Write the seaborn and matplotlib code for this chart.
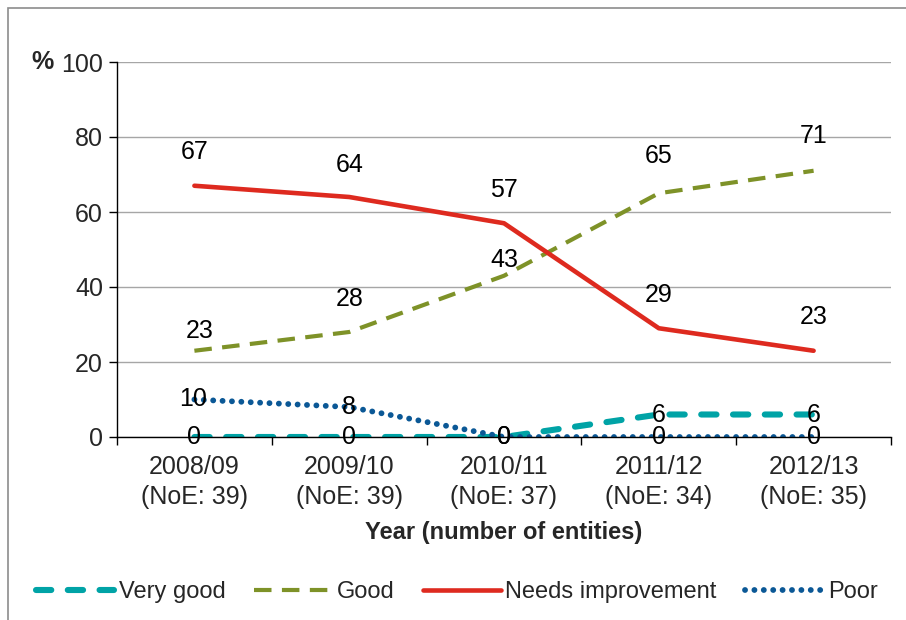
import matplotlib
matplotlib.use("Agg")
import matplotlib.pyplot as plt
import seaborn as sns
import pandas as pd
from matplotlib.patches import Rectangle

# Data
years = ["2008/09", "2009/10", "2010/11", "2011/12", "2012/13"]
noe = [39, 39, 37, 34, 35]
very_good = [0, 0, 0, 6, 6]
good = [23, 28, 43, 65, 71]
needs_improvement = [67, 64, 57, 29, 23]
poor = [10, 8, 0, 0, 0]

series_names = ["Very good", "Good", "Needs improvement", "Poor"]
series_values = [very_good, good, needs_improvement, poor]

sns.set_theme(style="white")
plt.rcParams["font.family"] = ["Liberation Sans", "DejaVu Sans"]

FS = 18

fig = plt.figure(figsize=(9.06, 6.2), dpi=100)
ax = fig.add_axes([117 / 906, 1 - 437 / 620, (891 - 117) / 906, (437 - 62) / 620])

# Frame around the chart area
fig.patches.append(Rectangle((8 / 906, -0.05), 1.05, 1 - 8 / 620 + 0.05,
                             transform=fig.transFigure, fill=False,
                             edgecolor="#8c8c8c", linewidth=1.2, zorder=0))

styles = {
    "Very good": dict(color="#00A3A6", lw=4.4, dashes=(2.5, 2.7), dash_capstyle="round", zorder=4),
    "Good": dict(color="#7E9228", lw=3.0, dashes=(4.2, 2.5), dash_capstyle="butt", zorder=3),
    "Needs improvement": dict(color="#DE2A1F", lw=3.3, dashes=None, zorder=3),
    "Poor": dict(color="#0B5896", lw=4.2, dashes=(0.01, 1.6), dash_capstyle="round", zorder=4),
}

xpos = list(range(len(years)))
for name, vals in zip(series_names, series_values):
    st = styles[name]
    df = pd.DataFrame({"x": xpos, "y": vals})
    sns.lineplot(data=df, x="x", y="y", ax=ax, color=st["color"],
                 linewidth=st["lw"], label=name, zorder=st["zorder"])
    l = ax.get_lines()[-1]
    if st["dashes"] is not None:
        l.set_dashes(st["dashes"])
        l.set_dash_capstyle(st["dash_capstyle"])
    else:
        l.set_solid_capstyle("round")

# Data labels (offsets in points)
label_dy = {
    "Very good": [0, 0, 0, 0, 0],
    "Good": [14, 24, 11, 27, 25],
    "Needs improvement": [24, 23, 24, 24, 24],
    "Poor": [0, 0, 0, 0, 0],
}
label_dx = {
    "Very good": [0, 0, 0, 0, 0],
    "Good": [4, 0, 0, 0, 0],
    "Needs improvement": [0, 0, 0, 0, 0],
    "Poor": [-1, 0, 0, 0, 0],
}
for name, vals in zip(series_names, series_values):
    for i, v in enumerate(vals):
        ax.annotate(f"{v}", xy=(i, v), xytext=(label_dx[name][i], label_dy[name][i]),
                    textcoords="offset points", ha="center", va="center",
                    fontsize=FS, color="black", zorder=6)

ax.set_xlim(-0.5, len(years) - 0.5)
ax.set_ylim(0, 100)
ax.set_yticks(range(0, 101, 20))
ax.set_yticklabels([str(t) for t in range(0, 101, 20)], fontsize=FS)
ax.set_xticks(xpos)
ax.set_xticklabels([f"{y}\n(NoE: {n})" for y, n in zip(years, noe)], fontsize=FS,
                   linespacing=1.3)
ax.tick_params(axis="x", length=0, pad=13)
ax.tick_params(axis="y", length=6, width=1, color="black", direction="out", pad=4, left=True)
# Category boundary ticks on the x axis
ax.set_xticks([i - 0.5 for i in range(len(years) + 1)], minor=True)
ax.tick_params(axis="x", which="minor", length=6, width=1, color="black", direction="out", bottom=True)

ax.grid(axis="y", color="#a6a6a6", linewidth=1)
ax.grid(axis="x", visible=False)
for s in ["top", "right"]:
    ax.spines[s].set_visible(False)
for s in ["left", "bottom"]:
    ax.spines[s].set_color("black")
    ax.spines[s].set_linewidth(1)
    ax.spines[s].set_zorder(5)

ax.set_xlabel("Year (number of entities)", fontsize=17, fontweight="bold", labelpad=9)
ax.set_ylabel("")
fig.text(43 / 906, 1 - 62 / 620, "%", fontsize=FS, fontweight="bold", ha="center", va="center")

ax.legend_.remove()
handles, labels = ax.get_legend_handles_labels()
fig.legend(handles, labels, loc="center", bbox_to_anchor=(457 / 906, 1 - 592 / 620), ncol=4,
           frameon=False, fontsize=17, handlelength=3.3, handletextpad=0.2, columnspacing=1.2)

fig.savefig("out.png", dpi=100)
